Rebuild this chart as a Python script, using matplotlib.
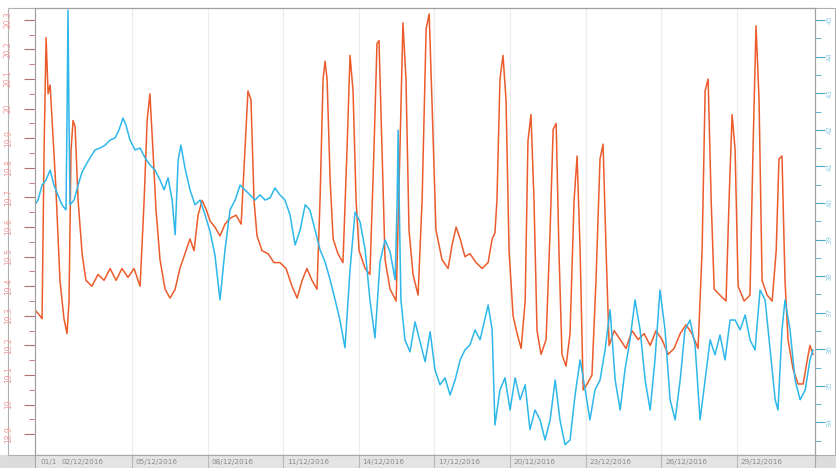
import matplotlib
matplotlib.use('Agg')
import matplotlib.pyplot as plt
from matplotlib.patches import Rectangle

# ---- data (days since 01/12/2016 00:00) ----
temp_day = [0.15, 0.35, 0.43, 0.51, 0.59, 0.67, 0.75, 0.87, 0.98, 1.14, 1.30, 1.42, 1.50, 1.58, 1.66, 1.74,
            1.86, 2.02, 2.17, 2.41, 2.65, 2.89, 3.13, 3.37, 3.60, 3.84, 4.08, 4.32, 4.48, 4.60, 4.71, 4.83,
            4.95, 5.11, 5.31, 5.51, 5.71, 5.90, 6.10, 6.30, 6.46, 6.62, 6.78, 6.94, 7.10, 7.29, 7.49, 7.69,
            7.89, 8.13, 8.33, 8.48, 8.60, 8.72, 8.84, 8.96, 9.16, 9.40, 9.63, 9.87, 10.11, 10.35, 10.55,
            10.75, 10.94, 11.14, 11.34, 11.46, 11.58, 11.66, 11.74, 11.86, 11.98, 12.17, 12.37, 12.53, 12.65,
            12.77, 12.89, 13.01, 13.25, 13.44, 13.60, 13.72, 13.80, 13.92, 14.04, 14.24, 14.48, 14.63, 14.75,
            14.87, 14.99, 15.15, 15.35, 15.51, 15.67, 15.79, 15.90, 16.06, 16.30, 16.54, 16.70, 16.86, 17.02,
            17.21, 17.41, 17.65, 17.89, 18.13, 18.29, 18.40, 18.48, 18.60, 18.72, 18.84, 18.96, 19.12, 19.28,
            19.44, 19.60, 19.71, 19.83, 19.95, 20.07, 20.23, 20.43, 20.59, 20.71, 20.83, 20.94, 21.06, 21.22,
            21.38, 21.54, 21.66, 21.78, 21.90, 22.06, 22.25, 22.41, 22.57, 22.69, 22.81, 22.93, 23.13, 23.37,
            23.60, 23.84, 24.08, 24.32, 24.56, 24.79, 25.03, 25.27, 25.51, 25.75, 25.98, 26.22, 26.46, 26.62,
            26.74, 26.86, 26.98, 27.10, 27.33, 27.57, 27.69, 27.81, 27.93, 28.05, 28.29, 28.52, 28.64, 28.76,
            28.88, 29.00, 29.20, 29.40, 29.56, 29.67, 29.79, 29.91, 30.03, 30.23, 30.43, 30.63, 30.79, 30.90,
            31.02]
temp_val = [19.32, 19.30, 19.29, 19.86, 20.24, 20.05, 20.08, 19.90, 19.73, 19.42, 19.29, 19.24, 19.35, 19.86,
            19.96, 19.94, 19.69, 19.51, 19.42, 19.40, 19.44, 19.42, 19.46, 19.42, 19.46, 19.43, 19.46, 19.40,
            19.69, 19.96, 20.05, 19.86, 19.66, 19.49, 19.39, 19.36, 19.39, 19.46, 19.51, 19.56, 19.52, 19.64,
            19.69, 19.66, 19.62, 19.60, 19.57, 19.61, 19.63, 19.64, 19.61, 19.86, 20.06, 20.03, 19.69, 19.57,
            19.52, 19.51, 19.48, 19.48, 19.46, 19.40, 19.36, 19.42, 19.46, 19.42, 19.39, 19.69, 20.10, 20.16,
            20.10, 19.76, 19.56, 19.51, 19.48, 19.86, 20.18, 20.06, 19.69, 19.52, 19.46, 19.44, 19.86, 20.22,
            20.23, 19.86, 19.49, 19.39, 19.35, 19.86, 20.29, 20.10, 19.59, 19.44, 19.37, 19.69, 20.27, 20.32,
            20.03, 19.59, 19.49, 19.46, 19.54, 19.60, 19.56, 19.50, 19.51, 19.48, 19.46, 19.48, 19.56, 19.58,
            19.69, 20.10, 20.18, 20.03, 19.52, 19.30, 19.24, 19.19, 19.35, 19.89, 19.98, 19.69, 19.25, 19.17,
            19.22, 19.59, 19.93, 19.95, 19.52, 19.17, 19.13, 19.24, 19.69, 19.84, 19.52, 19.05, 19.07, 19.10,
            19.42, 19.83, 19.88, 19.52, 19.20, 19.25, 19.22, 19.19, 19.25, 19.22, 19.24, 19.20, 19.25, 19.22,
            19.17, 19.19, 19.24, 19.27, 19.24, 19.19, 19.52, 20.06, 20.10, 19.69, 19.39, 19.37, 19.35, 19.69,
            19.98, 19.86, 19.40, 19.35, 19.37, 19.86, 20.28, 20.03, 19.42, 19.37, 19.35, 19.52, 19.83, 19.84,
            19.42, 19.22, 19.12, 19.07, 19.07, 19.15, 19.20, 19.17]

hum_day = [0.15, 0.27, 0.43, 0.59, 0.75, 0.90, 1.06, 1.22, 1.38, 1.42, 1.46, 1.50, 1.54, 1.70, 1.86, 2.02,
           2.17, 2.33, 2.53, 2.73, 2.93, 3.13, 3.33, 3.48, 3.64, 3.76, 3.92, 4.12, 4.32, 4.52, 4.71, 4.91,
           5.11, 5.27, 5.43, 5.59, 5.71, 5.83, 5.94, 6.10, 6.30, 6.50, 6.70, 6.90, 7.10, 7.29, 7.49, 7.69,
           7.89, 8.09, 8.29, 8.48, 8.68, 8.88, 9.08, 9.28, 9.48, 9.67, 9.87, 10.07, 10.27, 10.47, 10.67,
           10.87, 11.06, 11.26, 11.46, 11.66, 11.86, 12.06, 12.25, 12.45, 12.65, 12.85, 13.05, 13.25, 13.44,
           13.64, 13.84, 14.04, 14.24, 14.44, 14.52, 14.56, 14.60, 14.67, 14.83, 15.03, 15.23, 15.43, 15.63,
           15.83, 16.02, 16.22, 16.42, 16.62, 16.82, 17.02, 17.21, 17.41, 17.61, 17.81, 18.01, 18.13, 18.29,
           18.40, 18.60, 18.80, 19.00, 19.20, 19.40, 19.60, 19.79, 19.99, 20.19, 20.39, 20.59, 20.79, 20.98,
           21.18, 21.38, 21.58, 21.78, 21.98, 22.17, 22.37, 22.57, 22.77, 22.97, 23.17, 23.37, 23.56, 23.76,
           23.96, 24.16, 24.36, 24.56, 24.75, 24.95, 25.15, 25.35, 25.55, 25.75, 25.94, 26.14, 26.34, 26.54,
           26.74, 26.94, 27.13, 27.33, 27.53, 27.73, 27.93, 28.13, 28.33, 28.52, 28.72, 28.92, 29.12, 29.32,
           29.52, 29.63, 29.79, 29.91, 30.11, 30.31, 30.51, 30.71, 30.90, 31.02]
hum_val = [39.95, 40.08, 40.49, 40.63, 40.90, 40.49, 40.22, 39.95, 39.81, 42.27, 45.27, 42.27, 39.95, 40.08,
           40.49, 40.85, 41.04, 41.23, 41.45, 41.50, 41.58, 41.72, 41.78, 41.99, 42.32, 42.13, 41.72, 41.45,
           41.50, 41.23, 41.04, 40.90, 40.63, 40.36, 40.69, 40.08, 39.13, 41.17, 41.58, 40.96, 40.36, 39.95,
           40.08, 39.67, 39.21, 38.58, 37.35, 38.72, 39.81, 40.08, 40.49, 40.36, 40.22, 40.08, 40.22, 40.08,
           40.14, 40.41, 40.22, 40.08, 39.67, 38.85, 39.26, 39.95, 39.81, 39.26, 38.72, 38.39, 37.90, 37.35,
           36.80, 36.04, 38.17, 39.75, 39.48, 38.72, 37.35, 36.31, 38.39, 38.99, 38.66, 37.90, 40.08, 41.99,
           40.08, 37.35, 36.26, 35.93, 36.75, 36.20, 35.66, 36.48, 35.44, 35.03, 35.22, 34.75, 35.16, 35.71,
           35.98, 36.12, 36.53, 36.26, 36.86, 37.21, 36.53, 33.93, 34.89, 35.22, 34.34, 35.22, 34.62, 35.03,
           33.80, 34.34, 34.07, 33.52, 34.07, 35.16, 34.07, 33.39, 33.52, 34.75, 35.71, 34.89, 34.07, 34.89,
           35.16, 35.98, 37.08, 35.16, 34.34, 35.44, 36.26, 37.35, 36.53, 35.16, 34.34, 35.71, 37.62, 36.53,
           34.62, 34.07, 35.16, 36.53, 36.80, 36.12, 34.07, 35.16, 36.26, 35.85, 36.39, 35.71, 36.80, 36.80,
           36.53, 36.94, 36.26, 35.98, 37.62, 37.35, 35.98, 34.62, 34.34, 36.53, 37.35, 36.53, 35.16, 34.62,
           34.89, 35.71, 35.98]

temp_ticks = [18.9, 19.0, 19.1, 19.2, 19.3, 19.4, 19.5, 19.6, 19.7, 19.8, 19.9, 20.0, 20.1, 20.2, 20.3]
hum_ticks = [34, 35, 36, 37, 38, 39, 40, 41, 42, 43, 44, 45]
grid_days = [4, 7, 10, 13, 16, 19, 22, 25, 28]
date_labels = ["05/12/2016", "08/12/2016", "11/12/2016", "14/12/2016", "17/12/2016",
               "20/12/2016", "23/12/2016", "26/12/2016", "29/12/2016"]
first_labels = ["01/1", "02/12/2016"]
first_label_days = [0.35, 1.2]

RED = '#ec5b2b'
BLUE = '#2db7ea'

W, H = 837, 468
fig = plt.figure(figsize=(W / 100, H / 100), dpi=100)
fig.patch.set_facecolor('white')

# bottom gray strip and outer frame (behind axes)
fig.add_artist(Rectangle((0, 0), 1, 13 / H, transform=fig.transFigure, facecolor='#dcdcdc',
                         edgecolor='none', zorder=-10))
fig.add_artist(Rectangle((8 / W, 1 - 455 / H), (835 - 8) / W, (455 - 8) / H, transform=fig.transFigure,
                         fill=False, edgecolor='#b0b0b0', lw=0.8, zorder=-10))

ax = fig.add_axes([35 / W, 1 - 455 / H, (815 - 35) / W, (455 - 8) / H])
ax.set_facecolor('none')
xl = (0.15, 31.10)
ax.set_xlim(*xl)
ax.set_ylim(18.83, 20.34)
ax.set_xticks(grid_days)
ax.tick_params(axis='x', length=0, labelbottom=False)
ax.grid(axis='x', color='#ececec', lw=0.8)
ax.set_yticks(temp_ticks)
ax.set_yticklabels([f'{v:g}' for v in temp_ticks], rotation=90, va='center', fontsize=5.5, color='#f29a9a')
ax.set_yticks([v + 0.05 for v in temp_ticks[:-1]], minor=True)
ax.tick_params(axis='y', which='major', length=8, width=0.8, color='#b07070', pad=8)
ax.tick_params(axis='y', which='minor', length=4, width=0.6, color='#b07070')

ax2 = ax.twinx()
ax2.set_ylim(33.11, 45.33)
ax2.set_yticks(hum_ticks)
ax2.set_yticklabels([str(v) for v in hum_ticks], rotation=90, va='center', fontsize=5, color='#8fcfe8')
ax2.set_yticks([v + 0.5 for v in hum_ticks[:-1]] + [33.5], minor=True)
ax2.tick_params(axis='y', which='major', length=7, width=0.8, color='#4aa6c8', pad=1.5)
ax2.tick_params(axis='y', which='minor', length=4, width=0.6, color='#4aa6c8')

ax.plot(temp_day, temp_val, color=RED, lw=1.1, zorder=3)
ax2.plot(hum_day, hum_val, color=BLUE, lw=1.1, zorder=2)

for a in (ax, ax2):
    for s in a.spines.values():
        s.set_color('#a0a0a0')
        s.set_linewidth(0.8)

# bottom date bar
axb = fig.add_axes([35 / W, 0, (815 - 35) / W, 13 / H])
axb.set_facecolor('#e4e4e4')
axb.set_xlim(*xl)
axb.set_ylim(0, 1)
axb.set_xticks([])
axb.set_yticks([])
for s in axb.spines.values():
    s.set_color('#a8a8a8')
    s.set_linewidth(0.8)
for d in grid_days:
    axb.axvline(d, color='#b8b8b8', lw=0.8)
for d, lab in zip(grid_days, date_labels):
    axb.text(d + 0.15, 0.45, lab, fontsize=5.2, color='#8a8a8a', va='center', ha='left')
for d, lab in zip(first_label_days, first_labels):
    axb.text(d, 0.45, lab, fontsize=5.2, color='#8a8a8a', va='center', ha='left')

fig.savefig('out.png', dpi=100)
